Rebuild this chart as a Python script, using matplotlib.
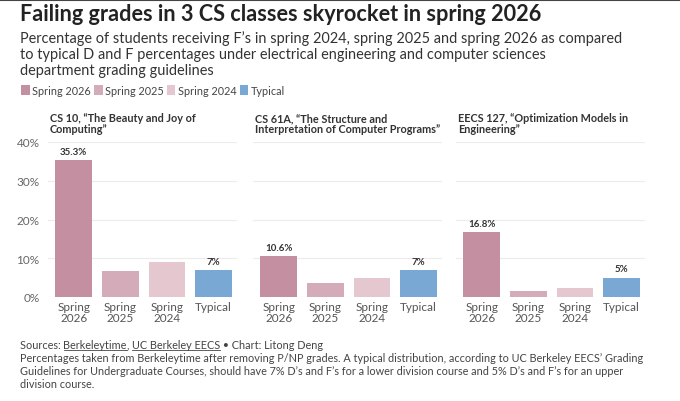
import matplotlib
matplotlib.use("Agg")
import matplotlib.pyplot as plt
from matplotlib.patches import Patch
from matplotlib.lines import Line2D

plt.rcParams["font.family"] = ["Lato", "DejaVu Sans"]

# data
courses = ["CS 10, \u201cThe Beauty and Joy of\nComputing\u201d",
           "CS 61A, \u201cThe Structure and\nInterpretation of Computer Programs\u201d",
           "EECS 127, \u201cOptimization Models in\nEngineering\u201d"]
periods = ["Spring 2026", "Spring 2025", "Spring 2024", "Typical"]
tick_labels = ["Spring\n2026", "Spring\n2025", "Spring\n2024", "Typical"]
cs10 = [35.3, 6.8, 9.1, 7]
cs61a = [10.6, 3.7, 5.0, 7]
eecs127 = [16.8, 1.5, 2.4, 5]
labelled = [0, 3]
colors = ["#c48fa1", "#d4abb8", "#e5c7d0", "#7aa8d5"]

title = "Failing grades in 3 CS classes skyrocket in spring 2026"
subtitle = ("Percentage of students receiving F\u2019s in spring 2024, spring 2025 and spring 2026 as compared\n"
            "to typical D and F percentages under electrical engineering and computer sciences\n"
            "department grading guidelines")
note = ("Percentages taken from Berkeleytime after removing P/NP grades. A typical distribution, according to UC Berkeley EECS\u2019 Grading\n"
        "Guidelines for Undergraduate Courses, should have 7% D\u2019s and F\u2019s for a lower division course and 5% D\u2019s and F\u2019s for an upper\n"
        "division course.")

W, H = 680, 402
fig = plt.figure(figsize=(W / 100, H / 100), dpi=100)
fig.patch.set_facecolor("white")

fig.add_artist(Line2D([0, 1], [1 - 0.5 / H, 1 - 0.5 / H], color="#444444", lw=1.5))

fig.text(20 / W, 1 - 4 / H, title, fontsize=15.6, fontweight="bold", color="#222222", va="top")
fig.text(20 / W, 1 - 31 / H, subtitle, fontsize=10.45, color="#333333", va="top", linespacing=1.17)

handles = [Patch(facecolor=c, edgecolor="none") for c in colors]
fig.legend(handles, periods, loc="upper left", bbox_to_anchor=(21 / W, 1 - 86 / H), ncol=4,
           frameon=False, fontsize=7.8, handlelength=0.8, handleheight=1.0, handletextpad=0.25,
           columnspacing=0.25, labelcolor="#444444", borderaxespad=0, borderpad=0)

lefts = [48, 253, 456]
series = [cs10, cs61a, eecs127]
for i, (left, vals, course) in enumerate(zip(lefts, series, courses)):
    ax = fig.add_axes([left / W, 1 - 298 / H, 189 / W, 155 / H])
    x = range(len(vals))
    ax.bar(x, vals, width=0.79, color=colors, zorder=2)
    for j in labelled:
        ax.annotate(f"{vals[j]:g}%", (j, vals[j]), xytext=(0, 3), textcoords="offset points",
                    ha="center", va="bottom", fontsize=7, fontweight="bold", color="#333333")
    ax.set_xlim(-0.55, 3.5)
    ax.set_ylim(0, 40)
    ax.set_yticks([0, 10, 20, 30, 40])
    ax.set_xticks(list(x))
    ax.set_xticklabels(tick_labels, fontsize=8.5, color="#555555", linespacing=0.95)
    if i == 0:
        ax.set_yticklabels([f"{t}%" for t in [0, 10, 20, 30, 40]], fontsize=8.5, color="#666666")
    else:
        ax.set_yticklabels([])
    ax.tick_params(length=0, pad=3)
    ax.tick_params(axis="y", pad=6)
    ax.grid(axis="y", color="#ececec", lw=0.8, zorder=0)
    for s in ax.spines.values():
        s.set_visible(False)
    fig.text((left + 2) / W, 1 - 113 / H, course, fontsize=7.8, fontweight="bold", color="#333333",
             va="top", linespacing=0.95)

# sources line with underlined links
fig.canvas.draw()
renderer = fig.canvas.get_renderer()
pieces = [("Sources: ", False), ("Berkeleytime", True), (", ", False),
          ("UC Berkeley EECS", True), (" \u2022 Chart: Litong Deng", False)]
xpos = 20
ybase = 1 - 349 / H
for txt, under in pieces:
    t = fig.text(xpos / W, ybase, txt, fontsize=7.8, color="#444444", va="baseline")
    bb = t.get_window_extent(renderer)
    if under:
        fig.add_artist(Line2D([bb.x0 / W, bb.x1 / W], [ybase - 2 / H, ybase - 2 / H],
                              color="#444444", lw=0.6))
    xpos = bb.x1

fig.text(20 / W, 1 - 353 / H, note, fontsize=7.8, color="#444444", va="top", linespacing=1.25)

fig.savefig("out.png", dpi=100)
